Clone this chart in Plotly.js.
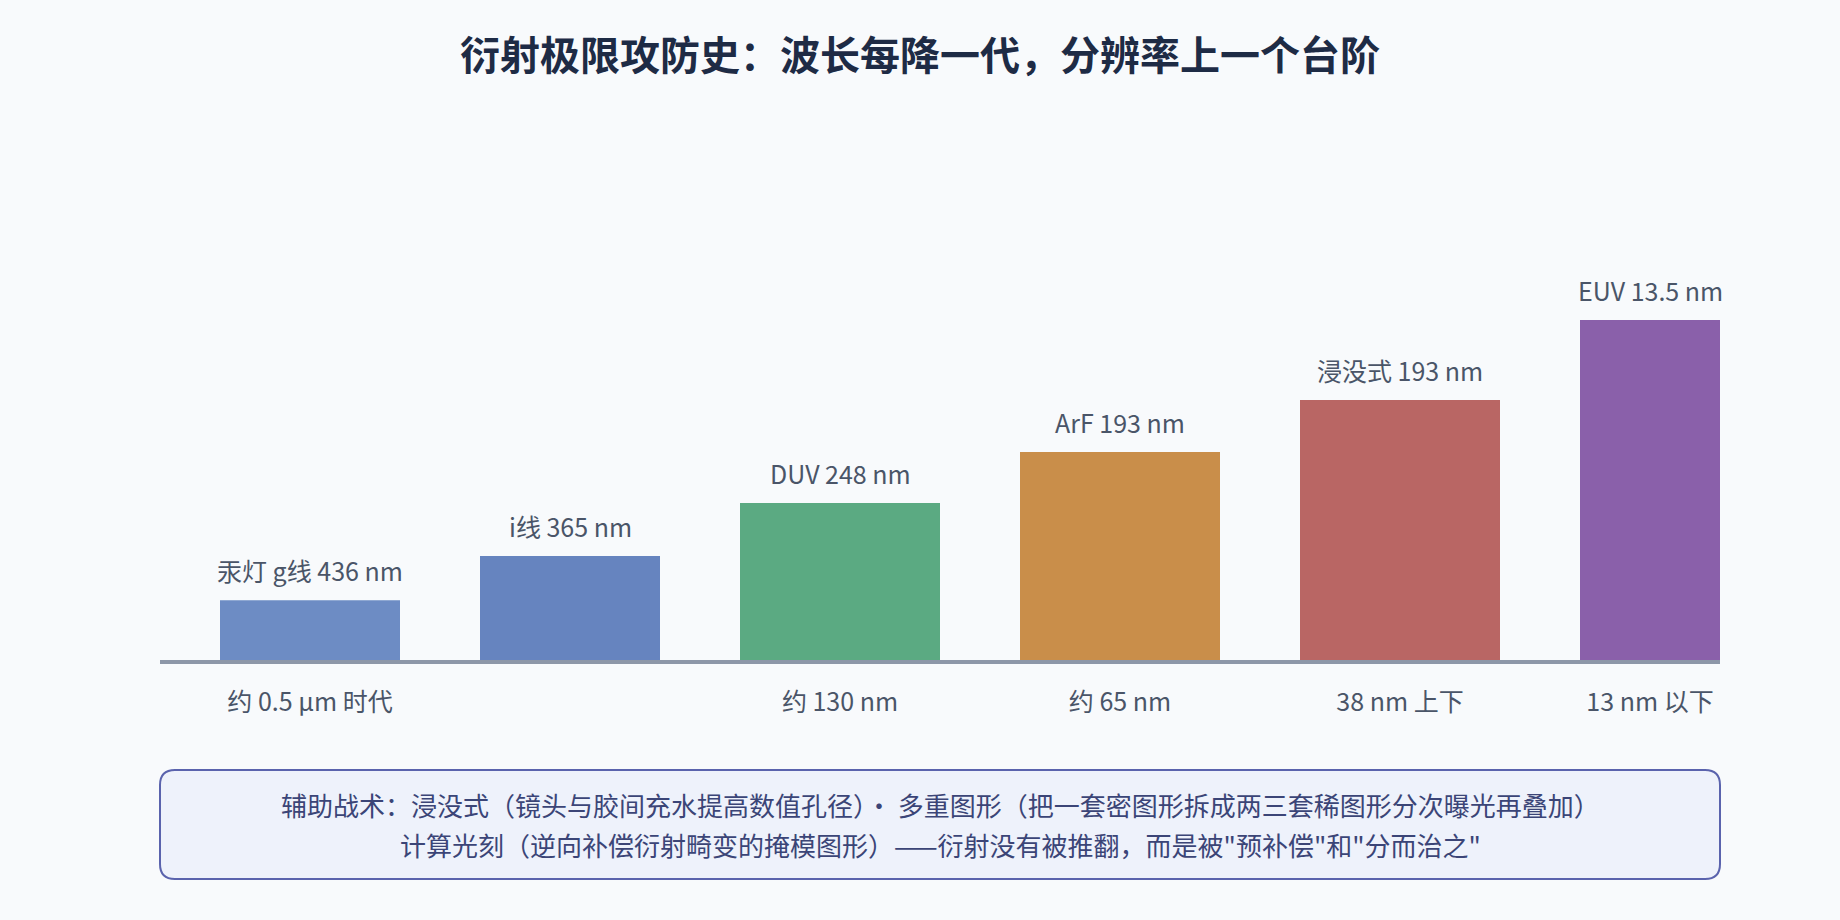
<!DOCTYPE html>
<html>
<head>
<meta charset="utf-8">
<script src="https://cdn.plot.ly/plotly-3.0.1.min.js"></script>
<style>
  html, body { margin: 0; padding: 0; background: #f8fafc; }
  #chart { width: 1840px; height: 920px; }
</style>
</head>
<body>
<div id="chart"></div>
<script>
// light source of each lithography generation
const sources = ["汞灯 g线 436 nm", "i线 365 nm", "DUV 248 nm", "ArF 193 nm", "浸没式 193 nm", "EUV 13.5 nm"];
// node reached by that generation (i-line left blank, as in the picture)
const nodes = ["约 0.5 μm 时代", "", "约 130 nm", "约 65 nm", "38 nm 上下", "13 nm 以下"];
// relative resolution step (height of each step)
const steps = [1.15, 2.0, 3.02, 4.0, 5.0, 6.54];
const colors = ["#6d8cc4", "#6684bf", "#5baa82", "#c98e4a", "#b96664", "#8a60aa"];

// placement of the steps along the axis
const slot = [15, 41, 68, 96, 124, 149];
const slotWidth = [18, 18, 20, 20, 20, 14];

const FONT = "Noto Sans CJK SC, Noto Sans, sans-serif";

const trace = {
  type: "bar",
  x: slot,
  y: steps,
  width: slotWidth,
  marker: { color: colors, line: { width: 0 } },
  hoverinfo: "skip",
  showlegend: false,
};

const annotations = sources.map((s, i) => ({
  x: slot[i],
  y: steps[i],
  xref: "x",
  yref: "y",
  text: s,
  showarrow: false,
  yanchor: "bottom",
  yshift: 10,
  font: { family: FONT, size: 25, color: "#4a5568" },
}));

const notes = [
  "辅助战术：浸没式（镜头与胶间充水提高数值孔径）· 多重图形（把一套密图形拆成两三套稀图形分次曝光再叠加）",
  "计算光刻（逆向补偿衍射畸变的掩模图形）——衍射没有被推翻，而是被\"预补偿\"和\"分而治之\"",
];
notes.forEach((t, i) => {
  annotations.push({
    xref: "paper",
    yref: "paper",
    x: 0.5,
    y: -0.362 - i * 0.1,
    text: t,
    showarrow: false,
    xanchor: "center",
    yanchor: "middle",
    font: { family: FONT, size: 26, color: "#3b4577" },
  });
});

// rounded note box under the chart (paper units)
const bx0 = 0, bx1 = 1, by0 = -0.275, by1 = -0.5475, rx = 0.0096, ry = 0.0375;
const boxPath =
  `M ${bx0 + rx},${by0} L ${bx1 - rx},${by0} Q ${bx1},${by0} ${bx1},${by0 - ry} ` +
  `L ${bx1},${by1 + ry} Q ${bx1},${by1} ${bx1 - rx},${by1} ` +
  `L ${bx0 + rx},${by1} Q ${bx0},${by1} ${bx0},${by1 + ry} ` +
  `L ${bx0},${by0 - ry} Q ${bx0},${by0} ${bx0 + rx},${by0} Z`;

const layout = {
  width: 1840,
  height: 920,
  margin: { l: 160, r: 120, t: 260, b: 260 },
  paper_bgcolor: "#f8fafc",
  plot_bgcolor: "#f8fafc",
  title: {
    text: "<b>衍射极限攻防史：波长每降一代，分辨率上一个台阶</b>",
    x: 0.5,
    xanchor: "center",
    y: 1 - 56 / 920,
    yanchor: "middle",
    yref: "container",
    font: { family: FONT, size: 40, color: "#1e2b45" },
  },
  xaxis: {
    range: [0, 156],
    tickvals: slot,
    ticktext: nodes,
    ticks: "",
    ticklabelstandoff: 17,
    showgrid: false,
    zeroline: false,
    showline: true,
    linecolor: "#8d97a8",
    linewidth: 4,
    tickfont: { family: FONT, size: 25, color: "#4a5568" },
    fixedrange: true,
  },
  yaxis: {
    range: [0, 400 / 52],
    visible: false,
    fixedrange: true,
  },
  shapes: [
    {
      type: "path",
      xref: "paper",
      yref: "paper",
      path: boxPath,
      fillcolor: "#eef2fb",
      line: { color: "#5a63ad", width: 2 },
      layer: "below",
    },
  ],
  annotations: annotations,
};

Plotly.newPlot("chart", [trace], layout, { displayModeBar: false, staticPlot: true });
</script>
</body>
</html>
